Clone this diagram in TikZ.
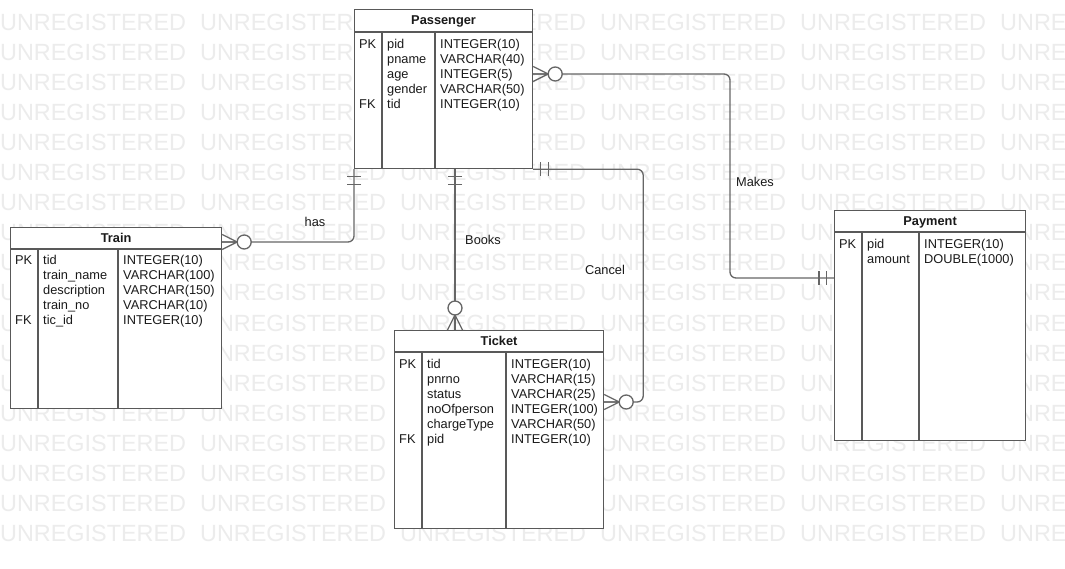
\documentclass[tikz,border=0pt]{standalone}
\usepackage{fontspec}
\setmainfont{Liberation Sans}
\usetikzlibrary{calc,backgrounds}
\definecolor{wmcol}{HTML}{ECECEC}
\definecolor{bordcol}{HTML}{595959}
\definecolor{conncol}{HTML}{666666}
\definecolor{txtcol}{HTML}{1A1A1A}
\newcommand{\erentity}[9]{%
  \node[ent, minimum width=#4pt, minimum height=#5pt] (#1) at (#2,#3) {};
  \draw[sepline] ($(#1.north west)+(0,#6)$) -- ($(#1.north east)+(0,#6)$);
  \draw[sepline] ($(#1.north west)+(#7,#6)$) -- ($(#1.south west)+(#7,0)$);
  \draw[sepline] ($(#1.north west)+(#8,#6)$) -- ($(#1.south west)+(#8,0)$);
  \node[ttl] (#1-title) at ($(#1.north west)!0.5!(#1.north east)+(0,#6/2+4.2)$) {#9};
}
\newcommand{\errow}[8]{%
  \node[lbl] (#1-k#5) at ($(#1.north west)+(5,#4+16.3+15*#5)$) {#6};
  \node[lbl] (#1-f#5) at ($(#1.north west)+(#2+5,#4+16.3+15*#5)$) {#7};
  \node[lbl] (#1-t#5) at ($(#1.north west)+(#3+5,#4+16.3+15*#5)$) {#8};
}
\begin{document}
\begin{tikzpicture}[x=1pt,y=-1pt,
  ent/.style={draw=bordcol, line width=1.2pt, fill=white, rectangle, inner sep=0pt, anchor=north west},
  sepline/.style={draw=bordcol, line width=1.2pt},
  lbl/.style={font=\fontsize{12.8}{15}\selectfont, text=txtcol, inner sep=0pt, anchor=base west},
  ttl/.style={font=\fontsize{12.8}{15}\selectfont\bfseries, text=txtcol, inner sep=0pt, anchor=base},
  rellbl/.style={font=\fontsize{12.8}{15}\selectfont, text=txtcol, inner sep=0pt},
  wmark/.style={font=\fontsize{23.4}{28}\selectfont, text=wmcol, inner sep=0pt, anchor=base west},
  conn/.style={draw=conncol, line width=1.3pt, rounded corners=6pt},
  zeromany/.pic={
    \draw[conncol, line width=1.3pt] (15,0) -- (0,7.5) (15,0) -- (0,-7.5) (0,0) -- (15,0);
    \draw[conncol, line width=1.3pt, fill=white] (22,0) circle[radius=7pt];
  },
  onlyone/.pic={
    \draw[conncol, line width=1.3pt] (7.5,-7) -- (7.5,7) (15,-7) -- (15,7);
  }
]
\useasboundingbox (0,0) rectangle (1065,569);
\clip (0,0) rectangle (1065,569);

% entities
\erentity{passenger}{354}{9}{178}{159}{23}{28}{81}{Passenger}
\errow{passenger}{28}{81}{23}{0}{PK}{pid}{INTEGER(10)}
\errow{passenger}{28}{81}{23}{1}{}{pname}{VARCHAR(40)}
\errow{passenger}{28}{81}{23}{2}{}{age}{INTEGER(5)}
\errow{passenger}{28}{81}{23}{3}{}{gender}{VARCHAR(50)}
\errow{passenger}{28}{81}{23}{4}{FK}{tid}{INTEGER(10)}

\erentity{train}{10}{227}{211}{181}{22}{28}{108}{Train}
\errow{train}{28}{108}{21}{0}{PK}{tid}{INTEGER(10)}
\errow{train}{28}{108}{21}{1}{}{train\_name}{VARCHAR(100)}
\errow{train}{28}{108}{21}{2}{}{description}{VARCHAR(150)}
\errow{train}{28}{108}{21}{3}{}{train\_no}{VARCHAR(10)}
\errow{train}{28}{108}{21}{4}{FK}{tic\_id}{INTEGER(10)}

\erentity{ticket}{394}{330}{209}{198}{22}{28}{112}{Ticket}
\errow{ticket}{28}{112}{22}{0}{PK}{tid}{INTEGER(10)}
\errow{ticket}{28}{112}{22}{1}{}{pnrno}{VARCHAR(15)}
\errow{ticket}{28}{112}{22}{2}{}{status}{VARCHAR(25)}
\errow{ticket}{28}{112}{22}{3}{}{noOfperson}{INTEGER(100)}
\errow{ticket}{28}{112}{22}{4}{}{chargeType}{VARCHAR(50)}
\errow{ticket}{28}{112}{22}{5}{FK}{pid}{INTEGER(10)}

\erentity{payment}{834}{210}{191}{230}{22}{28}{85}{Payment}
\errow{payment}{28}{85}{22}{0}{PK}{pid}{INTEGER(10)}
\errow{payment}{28}{85}{22}{1}{}{amount}{DOUBLE(1000)}

\begin{pgfonlayer}{background}
  \fill[white] (0,0) rectangle (1065,569);
  % watermark
  \foreach \r in {0,...,17}{
    \foreach \c in {0,...,5}{
      \node[wmark] (wm-\r-\c) at (\c*200, 31+\r*30) {UNREGISTERED};
    }
  }
  % connectors
  \draw[conn] (passenger.south west) |- ($(train.north east)+(0,15)$);
  \draw[conn] ($(passenger.south west)+(101,0)$) -- ($(ticket.north west)+(61,0)$);
  \draw[conn] (passenger.south east) -| ($(ticket.north east)+(39,72)$) -- ($(ticket.north east)+(0,72)$);
  \draw[conn] ($(passenger.north east)+(0,65)$) -| ($(payment.north west)+(-104,68)$) -- ($(payment.north west)+(0,68)$);
\end{pgfonlayer}

% connector ends
\pic[rotate=-90] at (passenger.south west) {onlyone};
\pic[rotate=-90] at ($(passenger.south west)+(101,0)$) {onlyone};
\pic at (passenger.south east) {onlyone};
\pic[rotate=180] at ($(payment.north west)+(0,68)$) {onlyone};
\pic at ($(train.north east)+(0,15)$) {zeromany};
\pic[rotate=90] at ($(ticket.north west)+(61,0)$) {zeromany};
\pic at ($(ticket.north east)+(0,72)$) {zeromany};
\pic at ($(passenger.north east)+(0,65)$) {zeromany};

% relationship labels
\node[rellbl] (lhas) at (315,222) {has};
\node[rellbl] (lbooks) at (483,240) {Books};
\node[rellbl] (lcancel) at (605,270) {Cancel};
\node[rellbl] (lmakes) at (755,182) {Makes};
\end{tikzpicture}
\end{document}
